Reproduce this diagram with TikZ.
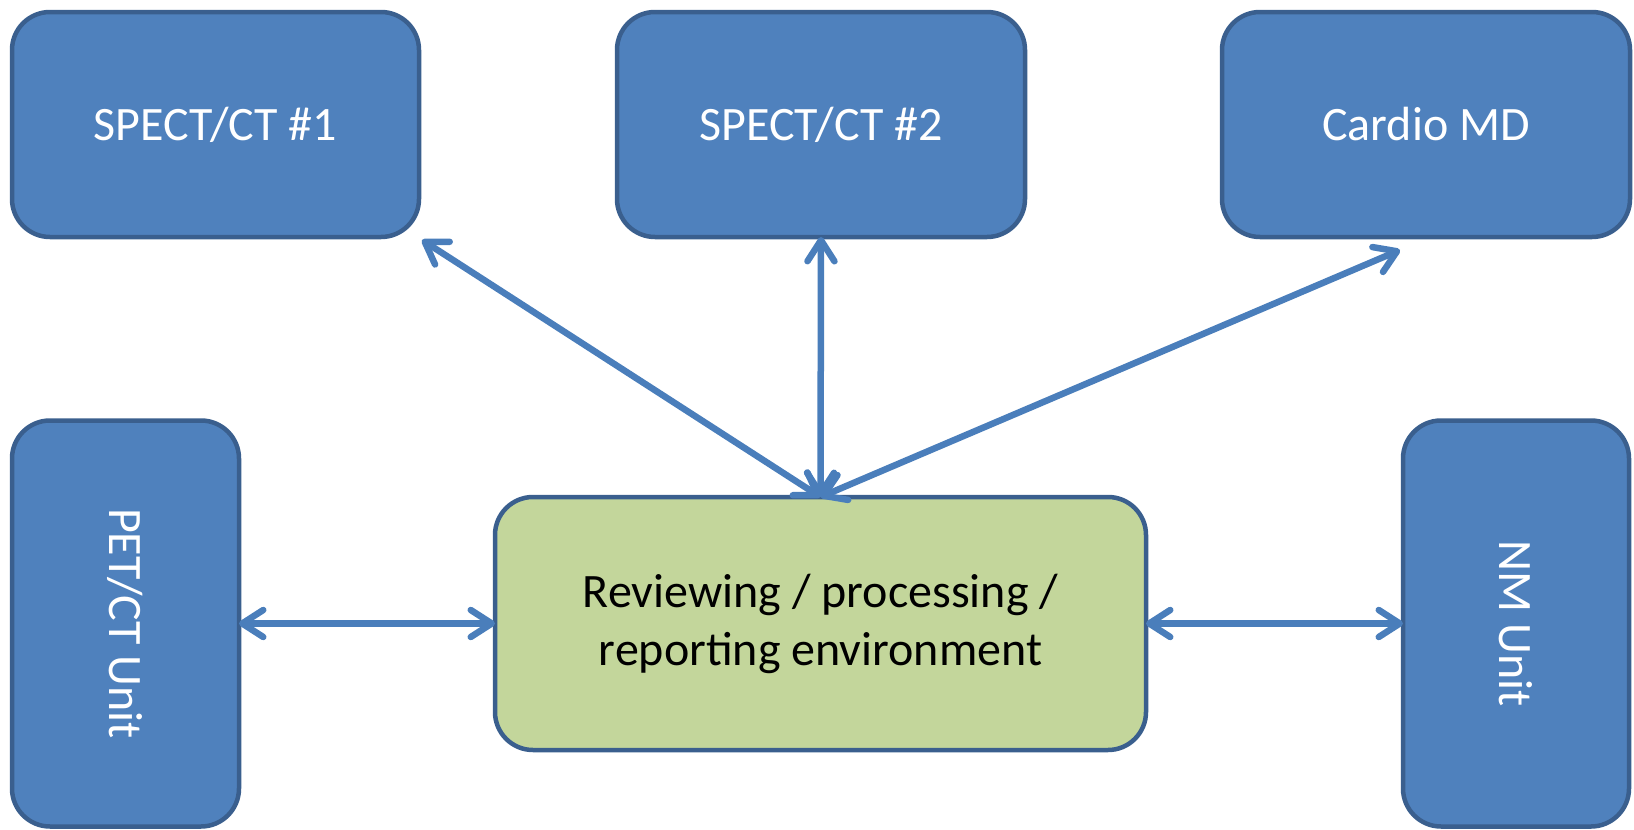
\documentclass[tikz,border=0pt]{standalone}
\usepackage{fontspec}
\setmainfont{Carlito}
\usetikzlibrary{arrows.meta}
\definecolor{boxblue}{HTML}{4F81BD}
\definecolor{boxedge}{HTML}{3A5F8E}
\definecolor{envgreen}{HTML}{C3D69B}
\definecolor{arrblue}{HTML}{4A7EBB}
\begin{document}
\begin{tikzpicture}[x=1pt,y=-1pt,
  box/.style={draw=boxedge, line width=4.5pt, fill=boxblue, rounded corners=38pt,
    inner sep=0pt, outer sep=0pt, text=white, align=center,
    font=\fontsize{48}{58}\selectfont},
  envbox/.style={box, fill=envgreen, text=black},
  vlabel/.style={rotate=-90, text=white, font=\fontsize{48}{58}\selectfont},
  arr/.style={draw=arrblue, line width=6.5pt, line cap=round,
    {Straight Barb[length=21pt,width=27pt,line cap=round,line join=round]}-{Straight Barb[length=21pt,width=27pt,line cap=round,line join=round]}}]
\useasboundingbox (0,0) rectangle (1634,830);
\node[box, minimum width=407pt, minimum height=225pt] (spect1) at (215.5,124.5) {SPECT/CT \#1};
\node[box, minimum width=408pt, minimum height=225pt] (spect2) at (821,124.5) {SPECT/CT \#2};
\node[box, minimum width=408pt, minimum height=225pt] (cardio) at (1426,124.5) {Cardio MD};
\node[box, minimum width=227pt, minimum height=406pt,
  label={[vlabel]center:PET/CT Unit}] (pet) at (125.5,623.5) {};
\node[box, minimum width=226pt, minimum height=406pt,
  label={[vlabel]center:NM Unit}] (nm) at (1516,623.5) {};
\node[envbox, minimum width=651pt, minimum height=253pt] (env) at (820.5,623.5)
  {Reviewing / processing /\\reporting environment};
\draw[arr] (env.north) -- ([shift={(3,3)}]spect1.south east);
\draw[arr] (env.north) -- (spect2.south);
\draw[arr] (env.north) -- ([shift={(-26,13)}]cardio.south);
\draw[arr] (pet.east) -- (env.west);
\draw[arr] (env.east) -- (nm.west);
\end{tikzpicture}
\end{document}
